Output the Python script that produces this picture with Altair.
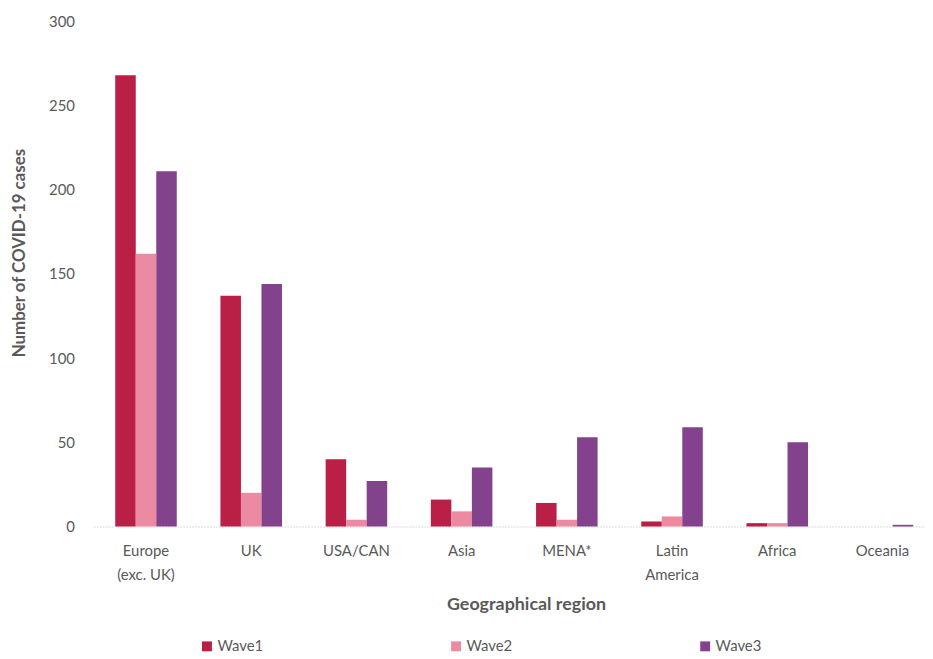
import altair as alt
import pandas as pd

regions = ["Europe (exc. UK)", "UK", "USA/CAN", "Asia", "MENA*", "Latin America", "Africa", "Oceania"]
waves = ["Wave1", "Wave2", "Wave3"]
wave1 = [268, 137, 40, 16, 14, 3, 2, 0]
wave2 = [162, 20, 4, 9, 4, 6, 2, 0]
wave3 = [211, 144, 27, 35, 53, 59, 50, 1]
colors = ["#BA1F45", "#EB8AA0", "#82438C"]
y_ticks = [0, 50, 100, 150, 200, 250, 300]

rows = []
for w, vals in zip(waves, [wave1, wave2, wave3]):
    for r, v in zip(regions, vals):
        rows.append({"region": r, "wave": w, "cases": v})
df = pd.DataFrame(rows)

FONT = "Lato"
GRAY = "#595959"

label_expr = ("datum.value == 'Europe (exc. UK)' ? ['Europe', '(exc. UK)'] : "
              "datum.value == 'Latin America' ? ['Latin', 'America'] : datum.value")

bars = alt.Chart(df).mark_bar().encode(
    x=alt.X("region:N", sort=regions,
            scale=alt.Scale(paddingInner=0.415, paddingOuter=0.16, align=0.65),
            axis=alt.Axis(title="Geographical region", labelAngle=0, labelExpr=label_expr,
                          labelFont=FONT, labelFontSize=15, labelColor=GRAY, labelPadding=17,
                          labelLineHeight=24,
                          domain=True, domainColor="#d9d9d9", domainWidth=1, domainDash=[2, 1],
                          ticks=False,
                          titleFont=FONT, titleFontSize=18, titleFontWeight="bold", titleColor=GRAY,
                          titleX=436, titleY=79, titleBaseline="middle", titleAnchor="start",
                          titleAlign="center")),
    xOffset=alt.XOffset("wave:N", sort=waves, scale=alt.Scale(paddingInner=0, paddingOuter=0)),
    y=alt.Y("cases:Q", scale=alt.Scale(domain=[0, 300], nice=False),
            axis=alt.Axis(values=y_ticks, title="Number of COVID-19 cases", grid=False,
                          domain=False, ticks=False,
                          labelFont=FONT, labelFontSize=15, labelColor=GRAY, labelPadding=19,
                          titleFont=FONT, titleFontSize=17, titleFontWeight="bold", titleColor=GRAY,
                          titleAngle=270, titleX=-74, titleY=233, titleAlign="center",
                          titleBaseline="middle")),
    color=alt.Color("wave:N", sort=waves,
                    scale=alt.Scale(domain=waves, range=colors),
                    legend=alt.Legend(title=None, orient="none", legendX=107, legendY=622,
                                      direction="horizontal", columns=3, columnPadding=186,
                                      symbolType="square", symbolSize=100, symbolStrokeWidth=0,
                                      symbolOffset=0, labelOffset=3,
                                      labelFont=FONT, labelFontSize=15, labelColor=GRAY)),
).properties(
    width=838, height=509,
    padding={"left": 86, "top": 11, "right": 0, "bottom": 128},
    autosize=alt.AutoSizeParams(type="none"),
).configure_view(stroke=None)

chart = bars
chart.save("out.html", embed_options={"renderer": "svg", "actions": False})
